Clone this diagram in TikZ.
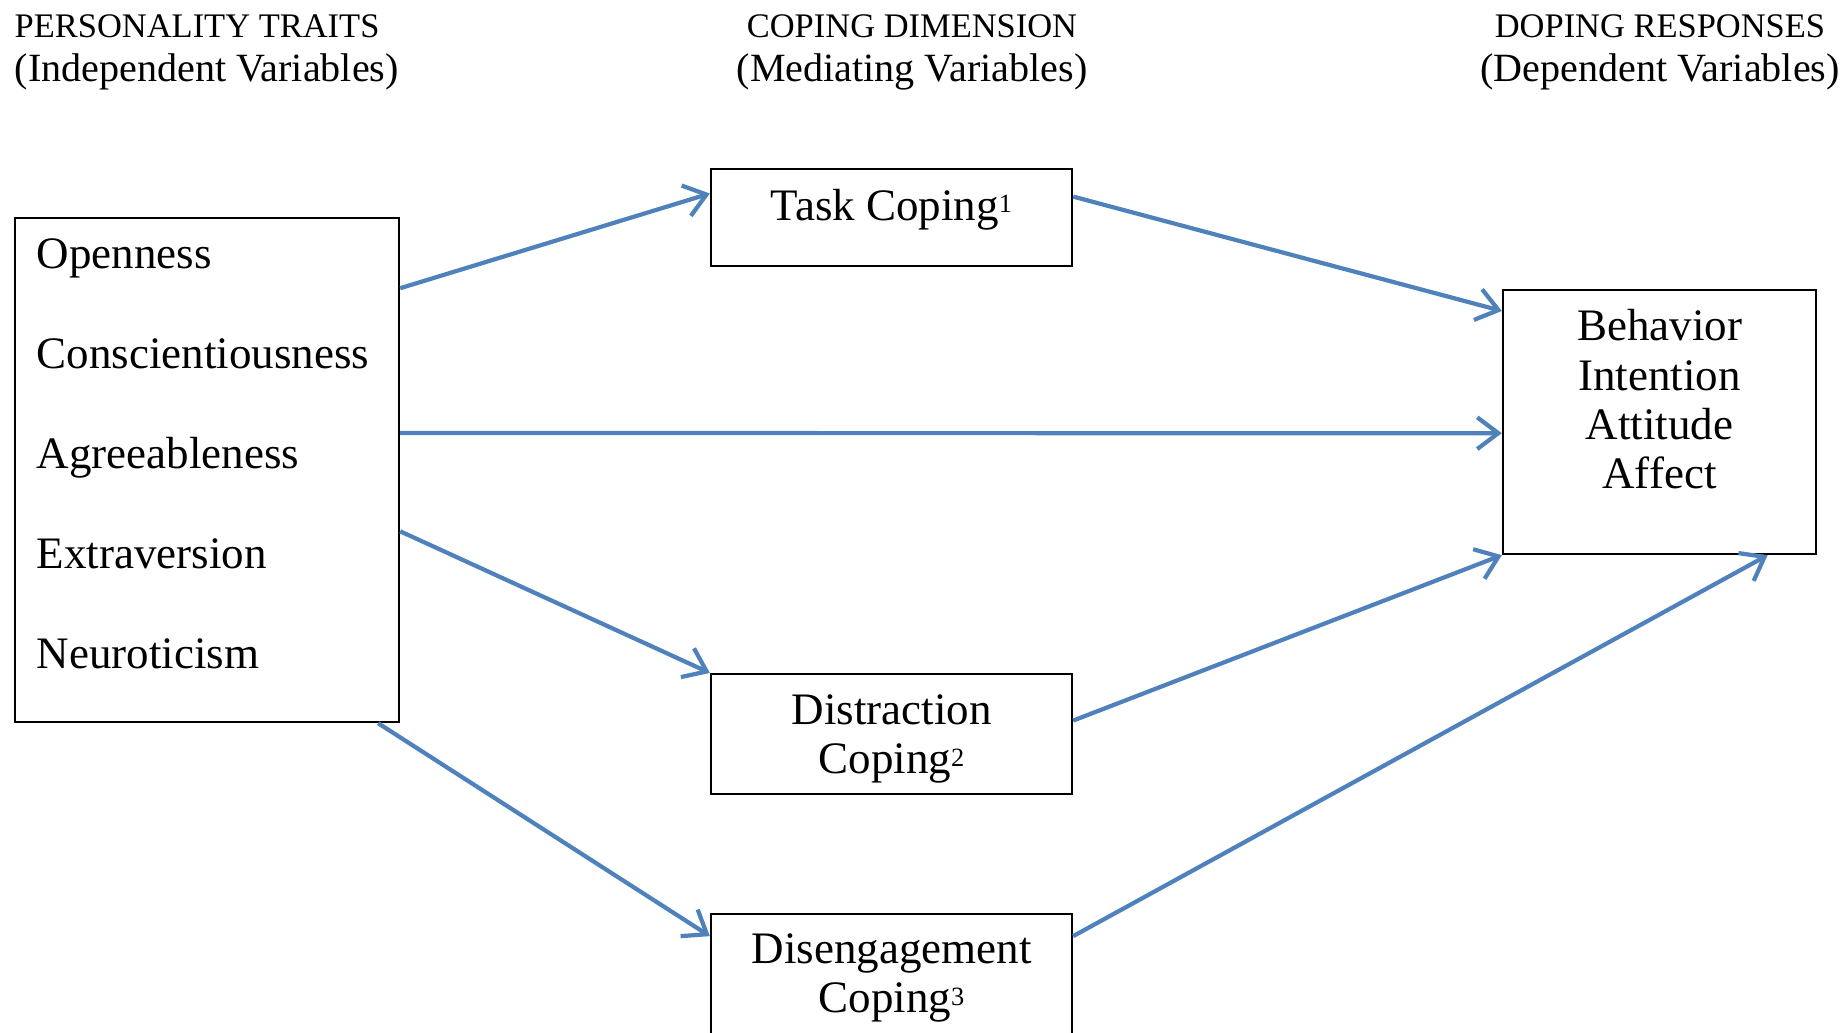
\documentclass[tikz,border=0pt]{standalone}
\usepackage{fontspec}
\setmainfont{Liberation Serif}
\usetikzlibrary{arrows.meta,calc,positioning}
\definecolor{arrowblue}{RGB}{79,129,189}
\newcommand{\supnum}[1]{\raisebox{2pt}{\fontsize{7.5}{7.5}\selectfont #1}}
\newcommand{\headsub}[1]{{\fontsize{11.4}{12.5}\selectfont #1}}

\begin{document}
\begin{tikzpicture}[x=0.01cm,y=-0.01cm,
    box/.style={rectangle, draw, line width=0.6pt, inner sep=0pt},
    word/.style={font=\fontsize{12.8}{14}\selectfont, inner sep=0pt, align=center},
    head/.style={font=\fontsize{9.8}{12.5}\selectfont, inner sep=0pt},
    link/.style={draw=arrowblue, line width=1.2pt, -{Straight Barb[length=6pt,width=9pt]}}]
    \useasboundingbox (0,0) rectangle (1845,1032);
    % column headings
    \node(headtraits) [head, align=left, anchor=north west] at (14,14) {PERSONALITY TRAITS\\\headsub{(Independent Variables)}};
    \node(headcoping) [head, align=center, anchor=north] at (912,14) {COPING DIMENSION\\\headsub{(Mediating Variables)}};
    \node(headdoping) [head, align=center, anchor=north] at (1660,14) {DOPING RESPONSES\\\headsub{(Dependent Variables)}};
    % boxes
    \node(traits) [box, minimum width=3.84cm, minimum height=5.04cm] at (207,470) {};
    \node(task) [box, minimum width=3.61cm, minimum height=0.97cm] at (891.5,217.5) {};
    \node(distr) [box, minimum width=3.61cm, minimum height=1.2cm] at (891.5,734) {};
    \node(diseng) [box, minimum width=3.61cm, minimum height=1.2cm] at (891.5,974) {};
    \node(result) [box, minimum width=3.13cm, minimum height=2.64cm] at (1659.5,422) {};
    % box texts
    \node(open) [word, anchor=base west] at (36,268) {Openness};
    \node(consc) [word, anchor=base west] at (36,368) {Conscientiousness};
    \node(agree) [word, anchor=base west] at (36,468) {Agreeableness};
    \node(extra) [word, anchor=base west] at (36,568) {Extraversion};
    \node(neuro) [word, anchor=base west] at (36,668) {Neuroticism};
    \node(tasktxt) [word, anchor=base] at (891.5,220) {Task Coping\supnum{1}};
    \node(distrtxt) [word, anchor=north] at (891.5,694) {Distraction\\Coping\supnum{2}};
    \node(disengtxt) [word, anchor=north] at (891.5,933) {Disengagement\\Coping\supnum{3}};
    \node(resulttxt) [word, anchor=north] at (1659.5,309) {Behavior\\Intention\\Attitude\\Affect};
    % paths
    \draw[link] ($(traits.north east)!0.141!(traits.south east)$) -- ($(task.north west)!0.258!(task.south west)$);
    \draw[link] ($(task.north east)!0.289!(task.south east)$) -- ($(result.north west)!0.083!(result.south west)$);
    \draw[link] ($(traits.north east)!0.427!(traits.south east)$) -- ($(result.north west)!0.542!(result.south west)$);
    \draw[link] ($(traits.north east)!0.621!(traits.south east)$) -- (distr.north west);
    \draw[link] ($(traits.south west)!0.943!(traits.south east)$) -- ($(diseng.north west)!0.19!(diseng.south west)$);
    \draw[link] ($(distr.north east)!0.39!(distr.south east)$) -- (result.south west);
    \draw[link] ($(diseng.north east)!0.19!(diseng.south east)$) -- ($(result.south west)!0.843!(result.south east)$);
\end{tikzpicture}
\end{document}
